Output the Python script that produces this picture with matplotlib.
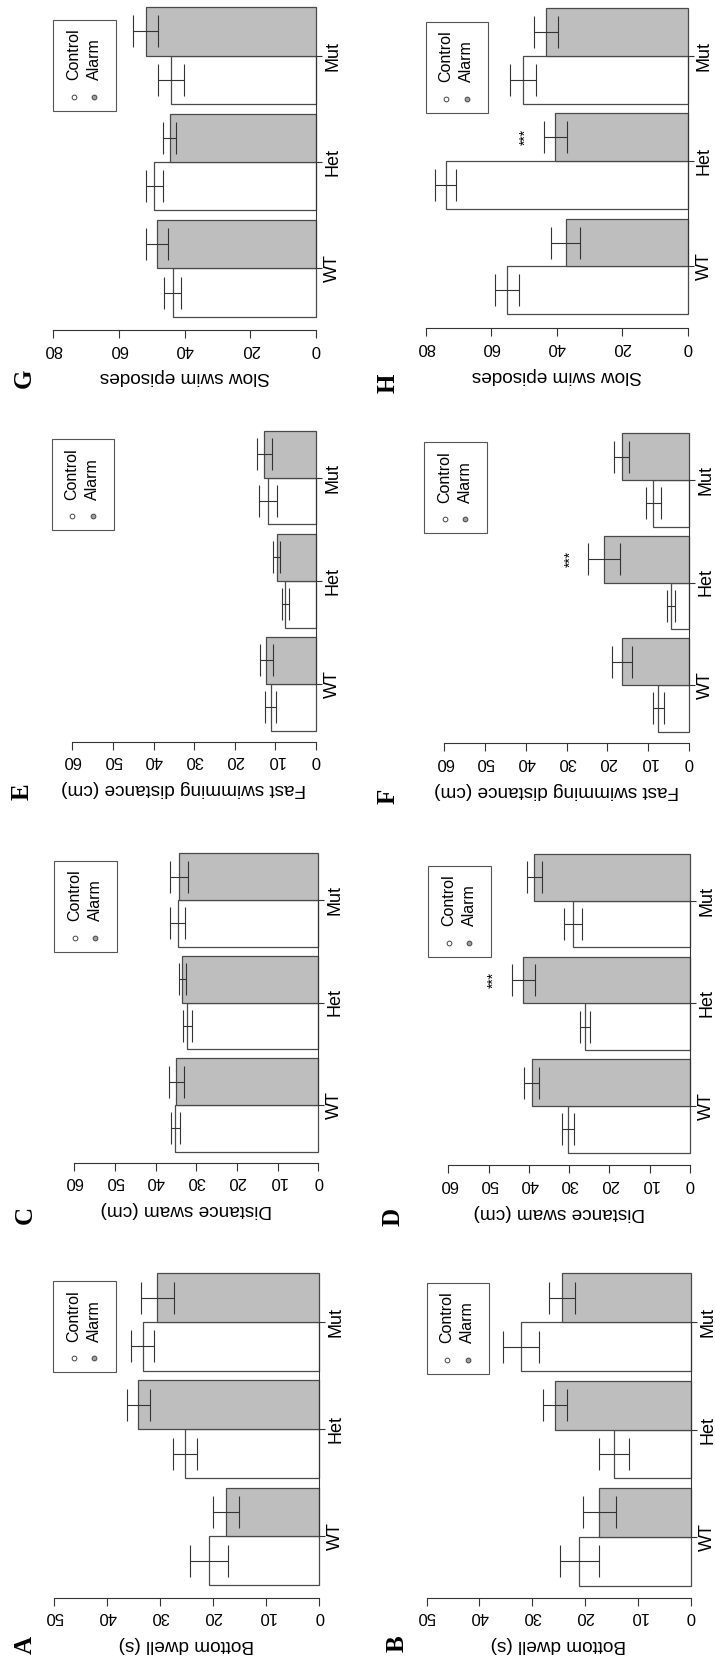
import numpy as np
import matplotlib
matplotlib.use("Agg")
import matplotlib.pyplot as plt
from matplotlib.patches import Rectangle
from matplotlib.transforms import Affine2D

plt.rcParams['font.family'] = ['Liberation Sans', 'DejaVu Sans']

# Figura girada 90 grados: las barras crecen hacia la izquierda
W, H = 715, 1663
DPI = 100

grupos = ['WT', 'Het', 'Mut']
series = ['Control', 'Alarm']

# Datos (media y error estandar)
dwell_a_ctrl = [20.8, 25.3, 33.3]
dwell_a_ctrl_se = [3.5, 2.3, 2.1]
dwell_a_alarm = [17.5, 34.1, 30.5]
dwell_a_alarm_se = [2.45, 2.1, 3.1]

dwell_b_ctrl = [21.1, 14.5, 32.1]
dwell_b_ctrl_se = [3.7, 2.8, 3.45]
dwell_b_alarm = [17.3, 25.7, 24.4]
dwell_b_alarm_se = [3.1, 2.35, 2.4]

dist_c_ctrl = [35.2, 32.2, 34.6]
dist_c_ctrl_se = [1.1, 1.1, 1.75]
dist_c_alarm = [34.9, 33.4, 34.3]
dist_c_alarm_se = [1.8, 0.9, 2.15]

dist_d_ctrl = [30.2, 26.1, 29.1]
dist_d_ctrl_se = [1.5, 1.25, 2.3]
dist_d_alarm = [39.3, 41.4, 38.7]
dist_d_alarm_se = [1.9, 2.9, 1.9]

fast_e_ctrl = [11.2, 7.6, 11.9]
fast_e_ctrl_se = [1.25, 0.85, 2.25]
fast_e_alarm = [12.2, 9.7, 12.7]
fast_e_alarm_se = [1.65, 0.9, 1.8]

fast_f_ctrl = [7.5, 4.4, 8.75]
fast_f_ctrl_se = [1.3, 0.95, 1.9]
fast_f_alarm = [16.5, 20.8, 16.5]
fast_f_alarm_se = [2.5, 3.9, 1.85]

slow_g_ctrl = [43.6, 49.2, 44.2]
slow_g_ctrl_se = [2.6, 2.5, 3.9]
slow_g_alarm = [48.4, 44.6, 51.9]
slow_g_alarm_se = [3.4, 2.1, 3.9]

slow_h_ctrl = [55.1, 73.9, 50.2]
slow_h_ctrl_se = [3.7, 3.2, 4.0]
slow_h_alarm = [37.3, 40.5, 43.3]
slow_h_alarm_se = [4.3, 3.5, 3.7]

ticks_dwell = [0, 10, 20, 30, 40, 50]
ticks_dist = [0, 10, 20, 30, 40, 50, 60]
ticks_slow = [0, 20, 40, 60, 80]

EDGE = '#4a4a4a'
LINEA = '#333333'
GRIS = '#bebebe'

# Colocacion de cada panel en pixeles de la imagen:
# izquierda, valor 0, base barras, tope barras, linea eje, letra, leyenda
layout = {
    'A': (54.0, 319.3, 1585.0, 1273.3, 1597.7, (25.0, 1645.0), (53.3, 1281.0)),
    'B': (426.5, 691.0, 1585.7, 1273.3, 1597.7, (396.7, 1643.3), (426.7, 1282.7)),
    'C': (54.0, 318.3, 1151.7, 853.3, 1162.7, (25.0, 1215.0), (54.0, 860.7)),
    'D': (428.3, 690.0, 1152.7, 854.0, 1165.0, (393.3, 1216.7), (428.3, 866.0)),
    'E': (52.0, 316.0, 730.7, 430.7, 741.7, (21.7, 791.7), (51.7, 439.3)),
    'F': (424.0, 689.0, 731.7, 433.3, 743.3, (388.3, 796.7), (424.0, 442.3)),
    'G': (53.3, 316.0, 316.7, 7.3, 330.0, (24.0, 378.3), (53.3, 20.0)),
    'H': (425.7, 687.7, 314.3, 8.3, 328.3, (388.3, 383.3), (425.7, 21.7)),
}


def dibujar_leyenda(fig, trans, bx, by):
    fig.add_artist(Rectangle((bx, by + 91), 62.7, -91, transform=trans,
                             facecolor='white', edgecolor='#555555',
                             linewidth=0.8))
    colores = ['white', '#a0a0a0']
    for k, nombre in enumerate(series):
        xc = bx + 20.5 + k * 20.5
        fig.text(xc, by + 60.5, nombre, transform=trans, rotation=90,
                 rotation_mode='anchor', ha='left', va='center',
                 fontsize=11.5)
        fig.add_artist(plt.Line2D([xc], [by + 77], transform=trans,
                                  marker='o', markersize=3.4,
                                  markerfacecolor=colores[k],
                                  markeredgecolor='#444444',
                                  markeredgewidth=0.7, linestyle='none'))


def dibujar_panel(fig, trans, letra, etiqueta, ctrl, ctrl_se, alarm, alarm_se,
                  ticks, vlim, sig=False):
    L, x0, yb, yt, ay, pos_letra, pos_ley = layout[letra]
    ax = fig.add_axes([L / W, 1 - yb / H, (x0 - L) / W, (yb - yt) / H])

    idx = np.arange(len(grupos))
    y_ctrl = idx * 2.2 + 0.5
    y_alarm = idx * 2.2 + 1.5

    ax.barh(y_ctrl, ctrl, height=1, color='white', edgecolor=EDGE,
            linewidth=0.9, clip_on=False)
    ax.barh(y_alarm, alarm, height=1, color=GRIS, edgecolor=EDGE,
            linewidth=0.9, clip_on=False)
    ax.errorbar(ctrl, y_ctrl, xerr=ctrl_se, fmt='none', ecolor=LINEA,
                elinewidth=0.8, capsize=11.5, capthick=0.8, clip_on=False)
    ax.errorbar(alarm, y_alarm, xerr=alarm_se, fmt='none', ecolor=LINEA,
                elinewidth=0.8, capsize=11.5, capthick=0.8, clip_on=False)

    if sig:
        ax.annotate('***', xy=(alarm[1] + alarm_se[1], y_alarm[1]),
                    xytext=(-13, 0), textcoords='offset points',
                    rotation=90, ha='center', va='center', fontsize=10)

    ax.set_xlim(vlim, 0)
    ax.set_ylim(0, 6.4)

    # Eje de valores (abajo, estilo R)
    ax.spines['top'].set_visible(False)
    ax.spines['left'].set_visible(False)
    ax.spines['bottom'].set_position(('outward', (ay - yb) * 72 / DPI))
    ax.spines['bottom'].set_bounds(ticks[0], ticks[-1])
    ax.spines['bottom'].set_color(LINEA)
    ax.spines['bottom'].set_linewidth(0.8)
    ax.set_xticks(ticks)
    ax.set_xticklabels([str(t) for t in ticks])
    ax.tick_params(axis='x', direction='out', length=5.4, width=0.8,
                   color=LINEA, pad=3, labelsize=12, labelrotation=180)

    # Eje de grupos (derecha)
    ax.yaxis.tick_right()
    ax.set_yticks(idx * 2.2 + 1)
    ax.set_yticklabels(grupos)
    ax.spines['right'].set_bounds(1, 2 * 2.2 + 1)
    ax.spines['right'].set_color(LINEA)
    ax.spines['right'].set_linewidth(0.8)
    ax.spines['right'].set_zorder(3)
    ax.tick_params(axis='y', direction='out', length=4.3, width=0.8,
                   color=LINEA, pad=1.5, labelsize=13, labelrotation=90)
    for lab in ax.get_yticklabels():
        lab.set_va('center')

    ax.set_xlabel(etiqueta, fontsize=13.7, rotation=180, va='center')
    ax.xaxis.set_label_coords(0.5, (yb - (ay + 47)) / (yb - yt))

    fig.text(pos_letra[0], pos_letra[1], letra, transform=trans, rotation=90,
             ha='center', va='center', fontsize=18, fontweight='bold',
             family='Liberation Serif')
    dibujar_leyenda(fig, trans, pos_ley[0], pos_ley[1])
    return ax


def main():
    fig = plt.figure(figsize=(W / DPI, H / DPI), dpi=DPI)
    # pixeles de imagen (origen arriba a la izquierda) -> figura
    trans = Affine2D().scale(1 / W, -1 / H).translate(0, 1) + fig.transFigure

    dibujar_panel(fig, trans, 'A', 'Bottom dwell (s)', dwell_a_ctrl,
                  dwell_a_ctrl_se, dwell_a_alarm, dwell_a_alarm_se,
                  ticks_dwell, 50)
    dibujar_panel(fig, trans, 'B', 'Bottom dwell (s)', dwell_b_ctrl,
                  dwell_b_ctrl_se, dwell_b_alarm, dwell_b_alarm_se,
                  ticks_dwell, 50)
    dibujar_panel(fig, trans, 'C', 'Distance swam (cm)', dist_c_ctrl,
                  dist_c_ctrl_se, dist_c_alarm, dist_c_alarm_se,
                  ticks_dist, 65)
    dibujar_panel(fig, trans, 'D', 'Distance swam (cm)', dist_d_ctrl,
                  dist_d_ctrl_se, dist_d_alarm, dist_d_alarm_se,
                  ticks_dist, 65, sig=True)
    dibujar_panel(fig, trans, 'E', 'Fast swimming distance (cm)', fast_e_ctrl,
                  fast_e_ctrl_se, fast_e_alarm, fast_e_alarm_se,
                  ticks_dist, 65)
    dibujar_panel(fig, trans, 'F', 'Fast swimming distance (cm)', fast_f_ctrl,
                  fast_f_ctrl_se, fast_f_alarm, fast_f_alarm_se,
                  ticks_dist, 65, sig=True)
    dibujar_panel(fig, trans, 'G', 'Slow swim episodes', slow_g_ctrl,
                  slow_g_ctrl_se, slow_g_alarm, slow_g_alarm_se,
                  ticks_slow, 80)
    dibujar_panel(fig, trans, 'H', 'Slow swim episodes', slow_h_ctrl,
                  slow_h_ctrl_se, slow_h_alarm, slow_h_alarm_se,
                  ticks_slow, 80, sig=True)

    fig.savefig('out.png', dpi=DPI)


if __name__ == '__main__':
    main()
